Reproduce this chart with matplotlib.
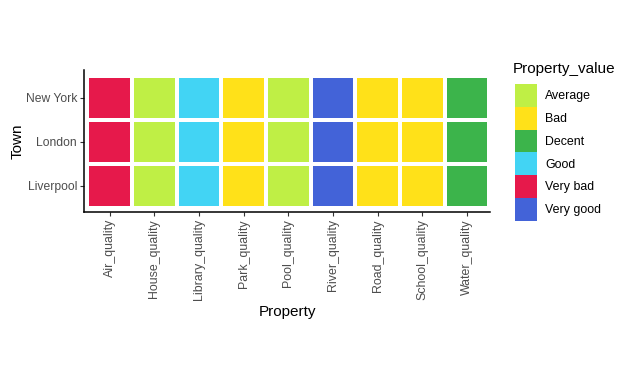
import numpy as np
import matplotlib
matplotlib.use("Agg")
import matplotlib.pyplot as plt
from matplotlib.colors import ListedColormap
from matplotlib.patches import Patch

plt.rcParams["font.family"] = ["Liberation Sans", "DejaVu Sans"]

# data
properties = ["Air_quality", "House_quality", "Library_quality", "Park_quality",
              "Pool_quality", "River_quality", "Road_quality", "School_quality",
              "Water_quality"]
towns = ["Liverpool", "London", "New York"]
levels = ["Average", "Bad", "Decent", "Good", "Very bad", "Very good"]
level_colors = ["#bfef45", "#ffe119", "#3cb44b", "#42d4f4", "#e6194b", "#4363d8"]

liverpool = ["Very bad", "Average", "Good", "Bad", "Average", "Very good", "Bad", "Bad", "Decent"]
london = ["Very bad", "Average", "Good", "Bad", "Average", "Very good", "Bad", "Bad", "Decent"]
new_york = ["Very bad", "Average", "Good", "Bad", "Average", "Very good", "Bad", "Bad", "Decent"]

grid = np.array([[levels.index(v) for v in row] for row in (liverpool, london, new_york)])

fig = plt.figure(figsize=(6.26, 3.9), dpi=100)
ax = fig.add_axes([0.134, 0.456, 0.649, 0.365])

cmap = ListedColormap(level_colors)
xe = np.arange(len(properties) + 1) - 0.5
ye = np.arange(len(towns) + 1) - 0.5
ax.pcolormesh(xe, ye, grid, cmap=cmap, vmin=-0.5, vmax=len(levels) - 0.5,
              edgecolor="white", linewidth=2.6)

ax.set_xlim(-0.58, len(properties) - 1 + 0.52)
ax.set_ylim(-0.6, len(towns) - 1 + 0.63)
ax.set_xticks(range(len(properties)))
ax.set_xticklabels(properties, rotation=90, fontsize=8.9, color="#4d4d4d")
ax.set_yticks(range(len(towns)))
ax.set_yticklabels(towns, fontsize=8.7, color="#4d4d4d")
ax.tick_params(length=3, width=0.8, color="#333333", pad=2)
for s in ["top", "right"]:
    ax.spines[s].set_visible(False)
for s in ["left", "bottom"]:
    ax.spines[s].set_linewidth(1.1)
ax.set_xlabel("Property", fontsize=11, labelpad=3)
ax.set_ylabel("Town", fontsize=11, labelpad=1)

# legend: title as separate text so the gap above the keys matches
fig.text(513 / 626, 1 - 69 / 390, "Property_value", fontsize=11, ha="left", va="center")
handles = [Patch(facecolor=c, edgecolor="none", label=l) for l, c in zip(levels, level_colors)]
leg = fig.legend(handles=handles, loc="upper left",
                 bbox_to_anchor=(515 / 626, 1 - 84 / 390), frameon=False, fontsize=8.9,
                 handlelength=1.78, handleheight=2.46,
                 labelspacing=0, handletextpad=0.65, borderpad=0, borderaxespad=0)

fig.savefig("out.png", dpi=100)
